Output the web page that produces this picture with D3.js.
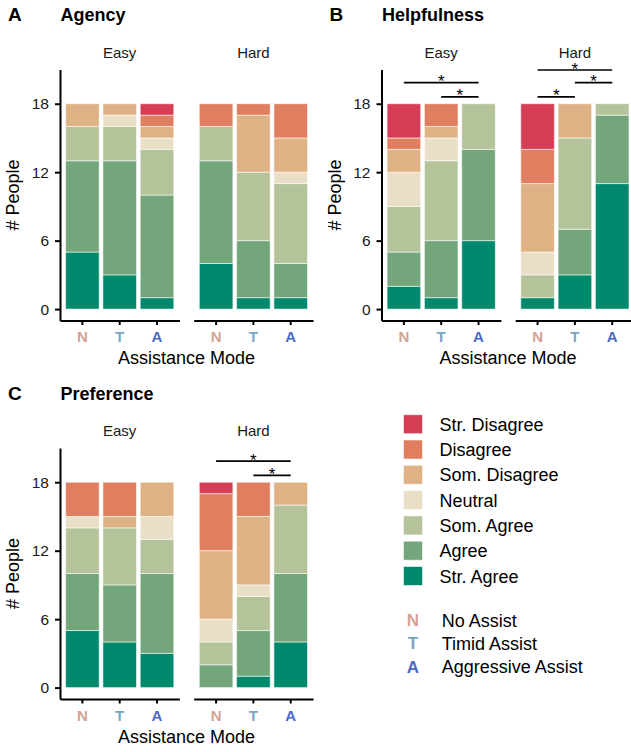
<!DOCTYPE html>
<html>
<head>
<meta charset="utf-8">
<script src="https://cdn.jsdelivr.net/npm/d3@7"></script>
<style>
  html, body { margin: 0; padding: 0; background: #fff; }
  svg { display: block; font-family: "Liberation Sans", Arial, sans-serif; }
</style>
</head>
<body>
<svg id="chart" width="631" height="752"></svg>
<script>
// ---- data ----
const levels = ["Str. Agree", "Agree", "Som. Agree", "Neutral", "Som. Disagree", "Disagree", "Str. Disagree"];
const levelColors = ["#00896d", "#73a77b", "#b5c39b", "#e9dfc6", "#dfb285", "#df7f5f", "#d53e55"];
const legendOrder = ["Str. Disagree", "Disagree", "Som. Disagree", "Neutral", "Som. Agree", "Agree", "Str. Agree"];
const modes = ["N", "T", "A"];
const modeNames = ["No Assist", "Timid Assist", "Aggressive Assist"];
const modeColors = ["#d4a292", "#7aa6c2", "#4a6bc5"];
const difficulties = ["Easy", "Hard"];
const yTicks = [0, 6, 12, 18];

// counts per mode (N, T, A), ordered Str. Agree -> Str. Disagree
const agencyEasy = [[5, 8, 3, 0, 2, 0, 0], [3, 10, 3, 1, 1, 0, 0], [1, 9, 4, 1, 1, 1, 1]];
const agencyHard = [[4, 9, 3, 0, 0, 2, 0], [1, 5, 6, 0, 5, 1, 0], [1, 3, 7, 1, 3, 3, 0]];
const helpEasy = [[2, 3, 4, 3, 2, 1, 3], [1, 5, 7, 2, 1, 2, 0], [6, 8, 4, 0, 0, 0, 0]];
const helpHard = [[1, 0, 2, 2, 6, 3, 4], [3, 4, 8, 0, 3, 0, 0], [11, 6, 1, 0, 0, 0, 0]];
const prefEasy = [[5, 5, 4, 1, 0, 3, 0], [4, 5, 5, 0, 1, 3, 0], [3, 7, 3, 2, 3, 0, 0]];
const prefHard = [[0, 2, 2, 2, 6, 5, 1], [1, 4, 3, 1, 6, 3, 0], [4, 6, 6, 0, 2, 0, 0]];

// significance brackets: [from, to, height]
const helpEasySig = [["N", "A", 19.85], ["T", "A", 18.6]];
const helpHardSig = [["N", "A", 20.95], ["T", "A", 19.85], ["N", "T", 18.6]];
const prefHardSig = [["N", "A", 19.85], ["T", "A", 18.6]];

const panelLabels = ["A", "B", "C"];
const panelTitles = ["Agency", "Helpfulness", "Preference"];

// ---- layout ----
const svg = d3.select("#chart");
const color = d3.scaleOrdinal().domain(levels).range(levelColors);
const modeColor = d3.scaleOrdinal().domain(modes).range(modeColors);

const facetW = 119.4, facetGap = 14.3;
const panels = [
  { ox: 60, oy: 0, facets: [agencyEasy, agencyHard], sigs: [[], []] },
  { ox: 381.5, oy: 0, facets: [helpEasy, helpHard], sigs: [helpEasySig, helpHardSig] },
  { ox: 60, oy: 378.5, facets: [prefEasy, prefHard], sigs: [[], prefHardSig] }
];

const stack = d3.stack().keys(levels);

panels.forEach((p, pi) => {
  const g = svg.append("g");
  const y = d3.scaleLinear().domain([-1, 21]).range([320.5 + p.oy, 69.5 + p.oy]);

  // panel label + title
  g.append("text").attr("x", p.ox - 52).attr("y", 21 + p.oy)
    .attr("font-size", 19).attr("font-weight", "bold").attr("fill", "#000").text(panelLabels[pi]);
  g.append("text").attr("x", p.ox + 0.5).attr("y", 21 + p.oy)
    .attr("font-size", 18).attr("font-weight", "bold").attr("fill", "#000").text(panelTitles[pi]);

  p.facets.forEach((counts, fi) => {
    const fx = p.ox + fi * (facetW + facetGap);
    const x = d3.scaleBand().domain(modes).range([fx, fx + facetW]).paddingInner(0.1).paddingOuter(0.15);
    const rows = counts.map((c, mi) => {
      const r = { mode: modes[mi] };
      levels.forEach((l, li) => r[l] = c[li]);
      return r;
    });
    const series = stack(rows);
    const fg = g.append("g");
    series.forEach(s => {
      fg.selectAll(null).data(s.filter(d => d[1] > d[0])).enter().append("rect")
        .attr("x", d => x(d.data.mode))
        .attr("width", x.bandwidth())
        .attr("y", d => y(d[1]))
        .attr("height", d => y(d[0]) - y(d[1]))
        .attr("fill", color(s.key))
        .attr("stroke", "#ffffff").attr("stroke-opacity", 0.55).attr("stroke-width", 1);
    });

    // strip label
    g.append("text").attr("x", fx + facetW / 2).attr("y", 57.5 + p.oy)
      .attr("text-anchor", "middle").attr("font-size", 15).attr("fill", "#1a1a1a").text(difficulties[fi]);

    // x axis
    const xAxis = g.append("g").attr("transform", `translate(0,${y.range()[0]})`)
      .call(d3.axisBottom(x).tickSize(4.5).tickSizeOuter(0).tickPadding(6.5));
    xAxis.select(".domain").attr("stroke", "#000").attr("stroke-width", 2);
    xAxis.selectAll(".tick line").attr("stroke", "#000").attr("stroke-width", 2);
    xAxis.selectAll(".tick text").attr("font-size", 15).attr("font-weight", "bold")
      .attr("font-family", "Liberation Sans, Arial, sans-serif")
      .attr("fill", d => modeColor(d));

    // significance brackets
    p.sigs[fi].forEach(s => {
      const x1 = x(s[0]) + x.bandwidth() / 2, x2 = x(s[1]) + x.bandwidth() / 2;
      g.append("line").attr("x1", x1).attr("x2", x2).attr("y1", y(s[2])).attr("y2", y(s[2]))
        .attr("stroke", "#000").attr("stroke-width", 1.6);
      g.append("text").attr("x", (x1 + x2) / 2).attr("y", y(s[2]) + 4.5)
        .attr("text-anchor", "middle").attr("font-size", 17).attr("fill", "#000").text("*");
    });
  });

  // y axis
  const yAxis = g.append("g").attr("transform", `translate(${p.ox},0)`)
    .call(d3.axisLeft(y).tickValues(yTicks).tickSize(5).tickSizeOuter(0).tickPadding(6));
  yAxis.select(".domain").attr("stroke", "#000").attr("stroke-width", 2);
  yAxis.selectAll(".tick line").attr("stroke", "#000").attr("stroke-width", 2);
  yAxis.selectAll(".tick text").attr("font-size", 15.5).attr("fill", "#1a1a1a")
    .attr("font-family", "Liberation Sans, Arial, sans-serif");

  // axis titles
  const yMid = (y.range()[0] + y.range()[1]) / 2;
  g.append("text").attr("transform", `translate(${p.ox - 41},${yMid}) rotate(-90)`)
    .attr("text-anchor", "middle").attr("font-size", 18).attr("fill", "#000").text("# People");
  g.append("text").attr("x", p.ox + facetW + facetGap / 2).attr("y", 364 + p.oy)
    .attr("text-anchor", "middle").attr("font-size", 18).attr("fill", "#000").text("Assistance Mode");
});

// ---- legends ----
const leg = svg.append("g");
const legY = d3.scalePoint().domain(legendOrder).range([424.2, 576]);
legendOrder.forEach(l => {
  leg.append("rect").attr("x", 403.5).attr("y", legY(l) - 9.5).attr("width", 19).attr("height", 19)
    .attr("fill", color(l)).attr("stroke", "#ffffff").attr("stroke-opacity", 0.55);
  leg.append("text").attr("x", 439.5).attr("y", legY(l) + 6.5)
    .attr("font-size", 18).attr("fill", "#000").text(l);
});
const modeY = d3.scalePoint().domain(modes).range([620, 666.7]);
modes.forEach((m, i) => {
  leg.append("text").attr("x", 413).attr("y", modeY(m) + 6).attr("text-anchor", "middle")
    .attr("font-size", 17).attr("font-weight", "bold").attr("fill", modeColor(m)).text(m);
  leg.append("text").attr("x", 441.7).attr("y", modeY(m) + 6.5)
    .attr("font-size", 18).attr("fill", "#000").text(modeNames[i]);
});
</script>
</body>
</html>
